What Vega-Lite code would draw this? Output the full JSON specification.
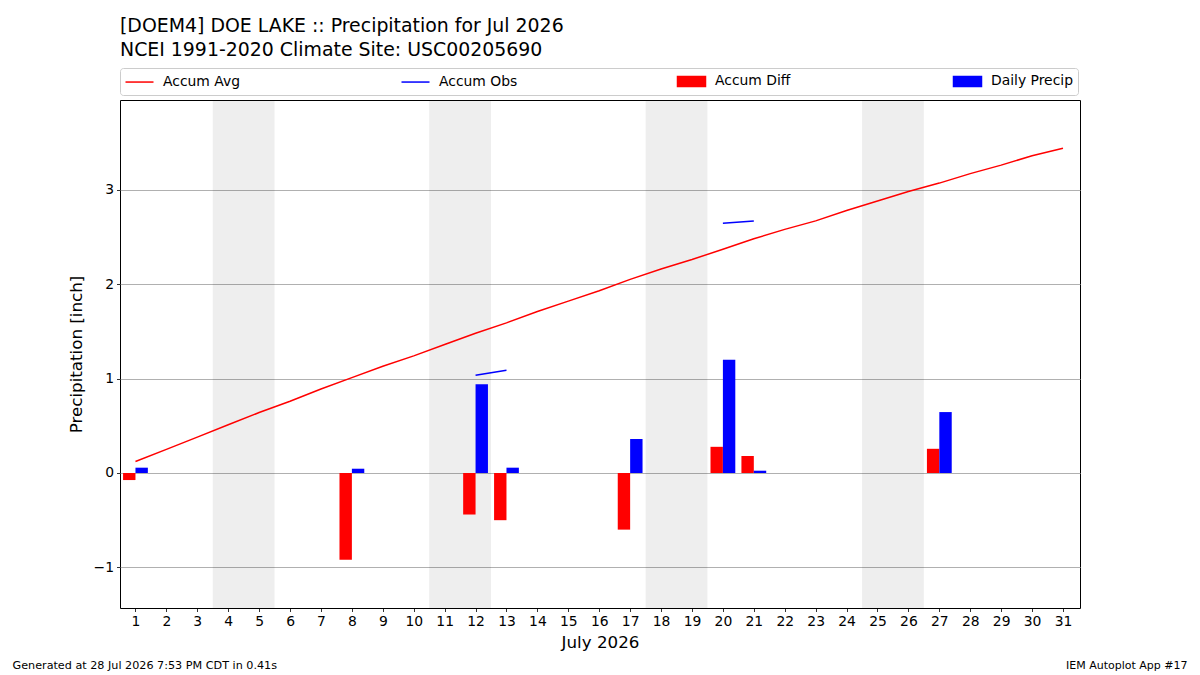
{
  "$schema": "https://vega.github.io/schema/vega-lite/v6.json",
  "autosize": {"type": "none"},
  "width": 960,
  "height": 508,
  "padding": {"left": 120, "top": 100, "right": 120, "bottom": 67},
  "background": "white",
  "title": {
    "text": ["[DOEM4] DOE LAKE :: Precipitation for Jul 2026", "NCEI 1991-2020 Climate Site: USC00205690"],
    "anchor": "start",
    "frame": "group",
    "font": "DejaVu Sans",
    "fontSize": 18.9,
    "fontWeight": "normal",
    "lineHeight": 24,
    "color": "black",
    "offset": 8
  },
  "config": {
    "font": "DejaVu Sans",
    "view": {"stroke": "black", "strokeWidth": 1},
    "axisX": {
      "values": [1,2,3,4,5,6,7,8,9,10,11,12,13,14,15,16,17,18,19,20,21,22,23,24,25,26,27,28,29,30,31],
      "format": "d", "labelOverlap": false, "labelBound": false, "labelFlush": false,
      "grid": false, "domain": false,
      "tickColor": "black", "tickSize": 3.5, "tickWidth": 0.8,
      "labelFontSize": 13.9, "labelColor": "black", "labelPadding": 3,
      "titleFontSize": 16.7, "titleFontWeight": "normal",
      "titleColor": "black", "titlePadding": 6
    }
  },
  "datasets": {
    "precip": [
      {"day": 1, "series": "Accum Avg", "value": 0.122},
      {"day": 2, "series": "Accum Avg", "value": 0.25},
      {"day": 3, "series": "Accum Avg", "value": 0.38},
      {"day": 4, "series": "Accum Avg", "value": 0.51},
      {"day": 5, "series": "Accum Avg", "value": 0.64},
      {"day": 6, "series": "Accum Avg", "value": 0.76},
      {"day": 7, "series": "Accum Avg", "value": 0.89},
      {"day": 8, "series": "Accum Avg", "value": 1.01},
      {"day": 9, "series": "Accum Avg", "value": 1.13},
      {"day": 10, "series": "Accum Avg", "value": 1.24},
      {"day": 11, "series": "Accum Avg", "value": 1.36},
      {"day": 12, "series": "Accum Avg", "value": 1.48},
      {"day": 13, "series": "Accum Avg", "value": 1.59},
      {"day": 14, "series": "Accum Avg", "value": 1.71},
      {"day": 15, "series": "Accum Avg", "value": 1.82},
      {"day": 16, "series": "Accum Avg", "value": 1.93},
      {"day": 17, "series": "Accum Avg", "value": 2.05},
      {"day": 18, "series": "Accum Avg", "value": 2.16},
      {"day": 19, "series": "Accum Avg", "value": 2.26},
      {"day": 20, "series": "Accum Avg", "value": 2.37},
      {"day": 21, "series": "Accum Avg", "value": 2.48},
      {"day": 22, "series": "Accum Avg", "value": 2.58},
      {"day": 23, "series": "Accum Avg", "value": 2.67},
      {"day": 24, "series": "Accum Avg", "value": 2.78},
      {"day": 25, "series": "Accum Avg", "value": 2.88},
      {"day": 26, "series": "Accum Avg", "value": 2.98},
      {"day": 27, "series": "Accum Avg", "value": 3.07},
      {"day": 28, "series": "Accum Avg", "value": 3.17},
      {"day": 29, "series": "Accum Avg", "value": 3.26},
      {"day": 30, "series": "Accum Avg", "value": 3.36},
      {"day": 31, "series": "Accum Avg", "value": 3.44},
      {"day": 12, "series": "Accum Obs", "value": 1.035, "seg": "a"},
      {"day": 13, "series": "Accum Obs", "value": 1.087, "seg": "a"},
      {"day": 20, "series": "Accum Obs", "value": 2.645, "seg": "b"},
      {"day": 21, "series": "Accum Obs", "value": 2.668, "seg": "b"},
      {"day": 1, "series": "Accum Diff", "value": -0.075},
      {"day": 8, "series": "Accum Diff", "value": -0.92},
      {"day": 12, "series": "Accum Diff", "value": -0.44},
      {"day": 13, "series": "Accum Diff", "value": -0.5},
      {"day": 17, "series": "Accum Diff", "value": -0.6},
      {"day": 20, "series": "Accum Diff", "value": 0.277},
      {"day": 21, "series": "Accum Diff", "value": 0.18},
      {"day": 27, "series": "Accum Diff", "value": 0.256},
      {"day": 1, "series": "Daily Precip", "value": 0.056},
      {"day": 8, "series": "Daily Precip", "value": 0.045},
      {"day": 12, "series": "Daily Precip", "value": 0.94},
      {"day": 13, "series": "Daily Precip", "value": 0.056},
      {"day": 17, "series": "Daily Precip", "value": 0.36},
      {"day": 20, "series": "Daily Precip", "value": 1.2},
      {"day": 21, "series": "Daily Precip", "value": 0.024},
      {"day": 27, "series": "Daily Precip", "value": 0.645}
    ],
    "weekends": [
      {"start": 3.5, "end": 5.5},
      {"start": 10.5, "end": 12.5},
      {"start": 17.5, "end": 19.5},
      {"start": 24.5, "end": 26.5}
    ]
  },
  "resolve": {"scale": {"x": "independent", "y": "independent"}},
  "layer": [
    {
      "layer": [
        {
          "data": {"name": "weekends"},
          "mark": {"type": "rect", "fill": "black", "opacity": 0.067},
          "encoding": {
            "x": {
              "field": "start", "type": "quantitative",
              "scale": {"domain": [0.5, 31.55], "nice": false, "zero": false, "padding": 0},
              "axis": {"title": "July 2026", "values": [1,2,3,4,5,6,7,8,9,10,11,12,13,14,15,16,17,18,19,20,21,22,23,24,25,26,27,28,29,30,31], "labelOverlap": false}
            },
            "x2": {"field": "end"}
          }
        },
        {
          "data": {"name": "precip"},
          "transform": [{"filter": "datum.series == 'Accum Avg'"}],
          "mark": {"type": "line", "strokeWidth": 1.5},
          "encoding": {
            "x": {"field": "day", "type": "quantitative", "axis": {"title": "July 2026", "values": [1,2,3,4,5,6,7,8,9,10,11,12,13,14,15,16,17,18,19,20,21,22,23,24,25,26,27,28,29,30,31], "labelOverlap": false}},
            "y": {
              "field": "value", "type": "quantitative",
              "scale": {"domain": [-1.43, 3.95], "nice": false, "padding": 0},
              "axis": {
                "values": [-1, 0, 1, 2, 3],
                "format": "d", "labelOverlap": false,
                "grid": true, "gridColor": "#b0b0b0", "gridWidth": 1, "domain": false,
                "tickColor": "black", "tickSize": 3.5, "tickWidth": 0.8,
                "labelFontSize": 13.9, "labelColor": "black", "labelPadding": 3,
                "labelExpr": "replace(datum.label, '-', '\u2212')",
                "title": "Precipitation [inch]", "titleFontSize": 16.7, "titleFontWeight": "normal",
                "titleColor": "black", "titlePadding": 8
              }
            },
            "color": {
              "field": "series", "type": "nominal",
              "scale": {
                "domain": ["Accum Avg", "Accum Obs", "Accum Diff", "Daily Precip"],
                "range": ["#ff0000", "#0000ff", "#ff0000", "#0000ff"]
              },
              "legend": {
                "title": null,
                "orient": "top",
                "direction": "horizontal",
                "columns": 4,
                "gridAlign": "all",
                "columnPadding": 153,
                "symbolSize": 196,
                "symbolStrokeWidth": 1.5,
                "labelFontSize": 13.9,
                "labelColor": "black",
                "labelOffset": 22,
                "padding": 5,
                "strokeColor": "#cccccc",
                "fillColor": "white",
                "cornerRadius": 3,
                "offset": 5,
                "encode": {
                  "symbols": {
                    "update": {
                      "x": {"value": 14.5},
                      "shape": {"signal": "indexof(['Accum Avg','Accum Obs'], datum.value) >= 0 ? 'M-2,0H2' : 'M-2,-0.72H2V0.72H-2Z'"},
                      "fill": {"signal": "indexof(['Accum Avg','Accum Obs'], datum.value) >= 0 ? 'transparent' : scale('color', datum.value)"},
                      "stroke": {"signal": "indexof(['Accum Avg','Accum Obs'], datum.value) >= 0 ? scale('color', datum.value) : 'transparent'"},
                      "strokeWidth": {"value": 1.5},
                      "opacity": {"value": 1}
                    }
                  }
                }
              }
            }
          }
        },
        {
          "data": {"name": "precip"},
          "transform": [{"filter": "datum.series == 'Accum Obs'"}],
          "mark": {"type": "line", "strokeWidth": 1.5},
          "encoding": {
            "x": {"field": "day", "type": "quantitative", "axis": {"title": "July 2026", "values": [1,2,3,4,5,6,7,8,9,10,11,12,13,14,15,16,17,18,19,20,21,22,23,24,25,26,27,28,29,30,31], "labelOverlap": false}},
            "y": {"field": "value", "type": "quantitative"},
            "color": {"field": "series", "type": "nominal"},
            "detail": {"field": "seg", "type": "nominal"}
          }
        },
        {
          "data": {"name": "precip"},
          "transform": [{"filter": "datum.series == 'Accum Diff'"}],
          "mark": {"type": "bar", "width": 12.4, "xOffset": -6.2},
          "encoding": {
            "x": {"field": "day", "type": "quantitative", "axis": {"title": "July 2026", "values": [1,2,3,4,5,6,7,8,9,10,11,12,13,14,15,16,17,18,19,20,21,22,23,24,25,26,27,28,29,30,31], "labelOverlap": false}},
            "y": {"field": "value", "type": "quantitative"},
            "color": {"field": "series", "type": "nominal"}
          }
        }
      ]
    },
    {
      "data": {"name": "precip"},
      "transform": [{"filter": "datum.series == 'Daily Precip'"}],
      "mark": {"type": "bar", "width": 12.4, "xOffset": 6.2},
      "encoding": {
        "x": {
          "field": "day", "type": "quantitative",
          "scale": {"domain": [0.5, 31.55], "nice": false, "zero": false, "padding": 0},
          "axis": {
            "orient": "bottom", "labels": false, "ticks": false, "domain": false, "grid": false,
            "title": "Generated at 28 Jul 2026 7:53 PM CDT in 0.41s",
            "titleX": -108, "titleY": 57, "titleAlign": "left", "titleBaseline": "middle",
            "titleAngle": 0, "titleFontSize": 11.2, "titleFontWeight": "normal", "titleColor": "black"
          }
        },
        "y": {
          "field": "value", "type": "quantitative",
          "scale": {"domain": [-1.43, 3.95], "nice": false, "padding": 0},
          "axis": {
            "orient": "right", "labels": false, "ticks": false, "domain": false, "grid": false,
            "title": "IEM Autoplot App #17",
            "titleX": 107, "titleY": 565, "titleAlign": "right", "titleBaseline": "middle",
            "titleAngle": 0, "titleFontSize": 11, "titleFontWeight": "normal", "titleColor": "black"
          }
        },
        "color": {"field": "series", "type": "nominal"}
      }
    }
  ]
}
